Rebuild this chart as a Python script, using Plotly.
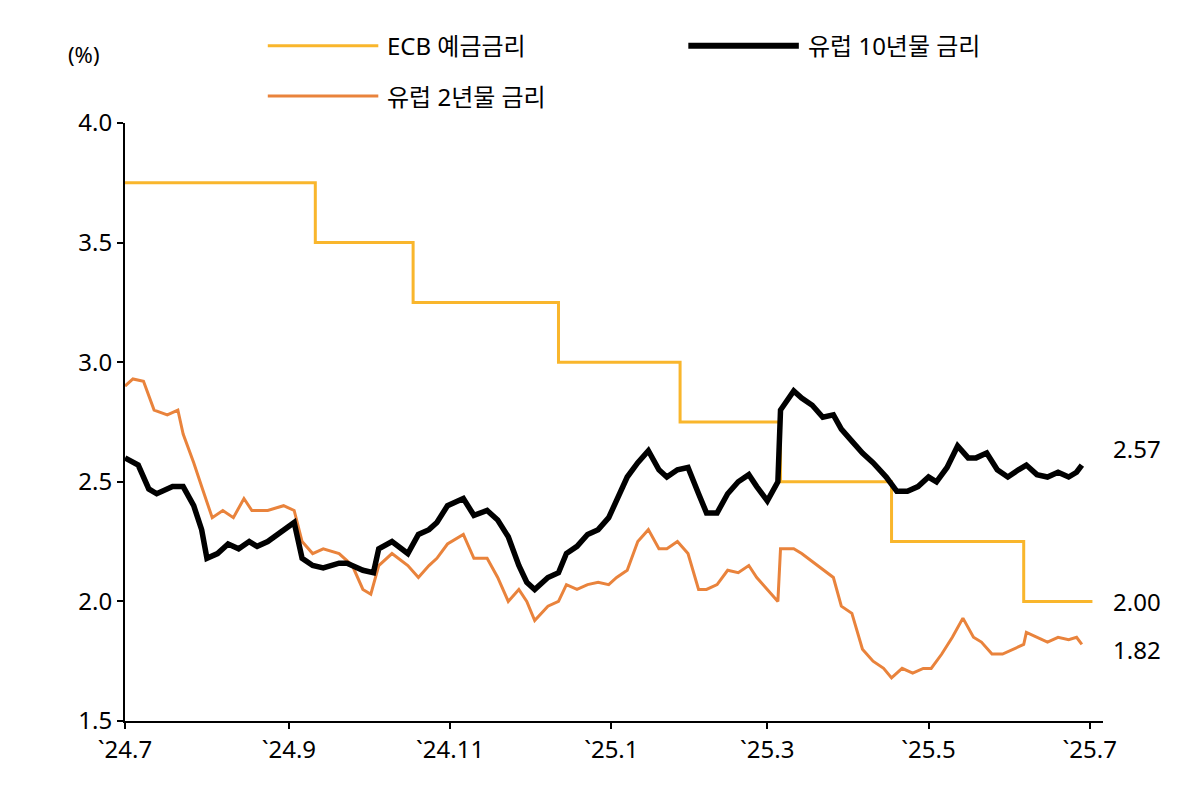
import pandas as pd
import plotly.graph_objects as go

start = pd.Timestamp("2024-07-01")

# ECB deposit rate (step changes, days since 2024-07-01)
ecb_days = [0, 72, 109, 164, 210, 248, 290, 340, 366]
ecb_vals = [3.75, 3.50, 3.25, 3.00, 2.75, 2.50, 2.25, 2.00, 2.00]

# Euro 10y yield
y10_days = [0, 5, 9, 12, 18, 22, 26, 29, 31, 35, 39, 43, 47, 50, 54, 58, 64, 67, 71, 75, 81, 84, 90, 94, 96,
            101, 107, 111, 115, 118, 122, 128, 132, 137, 141, 145, 149, 152, 155, 160, 164, 167, 171, 175,
            179, 183, 186, 190, 194, 198, 202, 205, 209, 213, 217, 220, 224, 228, 232, 236, 239, 243, 247,
            248, 253, 256, 260, 264, 268, 271, 275, 279, 283, 288, 292, 296, 300, 304, 307, 311, 315, 319,
            322, 326, 330, 334, 338, 341, 345, 349, 353, 357, 360, 362]
y10_vals = [2.60, 2.57, 2.47, 2.45, 2.48, 2.48, 2.40, 2.30, 2.18, 2.20, 2.24, 2.22, 2.25, 2.23, 2.25, 2.28,
            2.33, 2.18, 2.15, 2.14, 2.16, 2.16, 2.13, 2.12, 2.22, 2.25, 2.20, 2.28, 2.30, 2.33, 2.40, 2.43,
            2.36, 2.38, 2.34, 2.27, 2.15, 2.08, 2.05, 2.10, 2.12, 2.20, 2.23, 2.28, 2.30, 2.35, 2.42, 2.52,
            2.58, 2.63, 2.55, 2.52, 2.55, 2.56, 2.45, 2.37, 2.37, 2.45, 2.50, 2.53, 2.48, 2.42, 2.50, 2.80,
            2.88, 2.85, 2.82, 2.77, 2.78, 2.72, 2.67, 2.62, 2.58, 2.52, 2.46, 2.46, 2.48, 2.52, 2.50, 2.56,
            2.65, 2.60, 2.60, 2.62, 2.55, 2.52, 2.55, 2.57, 2.53, 2.52, 2.54, 2.52, 2.54, 2.57]

# Euro 2y yield
y2_days = [0, 3, 7, 11, 16, 20, 22, 26, 29, 33, 37, 41, 45, 48, 54, 60, 64, 67, 71, 75, 81, 86, 90, 93, 96,
           101, 107, 111, 115, 118, 122, 128, 132, 137, 141, 145, 149, 152, 155, 160, 164, 167, 171, 175,
           179, 183, 186, 190, 194, 198, 202, 205, 209, 213, 217, 220, 224, 228, 232, 236, 239, 243, 247,
           248, 253, 256, 262, 268, 271, 275, 279, 283, 287, 290, 294, 298, 302, 305, 309, 313, 317, 321,
           324, 328, 332, 336, 340, 341, 345, 349, 353, 357, 360, 362]
y2_vals = [2.90, 2.93, 2.92, 2.80, 2.78, 2.80, 2.70, 2.58, 2.48, 2.35, 2.38, 2.35, 2.43, 2.38, 2.38, 2.40,
           2.38, 2.25, 2.20, 2.22, 2.20, 2.15, 2.05, 2.03, 2.15, 2.20, 2.15, 2.10, 2.15, 2.18, 2.24, 2.28,
           2.18, 2.18, 2.10, 2.00, 2.05, 2.00, 1.92, 1.98, 2.00, 2.07, 2.05, 2.07, 2.08, 2.07, 2.10, 2.13,
           2.25, 2.30, 2.22, 2.22, 2.25, 2.20, 2.05, 2.05, 2.07, 2.13, 2.12, 2.15, 2.10, 2.05, 2.00, 2.22,
           2.22, 2.20, 2.15, 2.10, 1.98, 1.95, 1.80, 1.75, 1.72, 1.68, 1.72, 1.70, 1.72, 1.72, 1.78, 1.85,
           1.93, 1.85, 1.83, 1.78, 1.78, 1.80, 1.82, 1.87, 1.85, 1.83, 1.85, 1.84, 1.85, 1.82]

tick_dates = ["2024-07-01", "2024-09-01", "2024-11-01", "2025-01-01", "2025-03-01", "2025-05-01", "2025-07-01"]
tick_labels = ["`24.7", "`24.9", "`24.11", "`25.1", "`25.3", "`25.5", "`25.7"]

def to_dates(days):
    return [start + pd.Timedelta(days=d) for d in days]

c_ecb = "#F9B62C"
c_2y = "#E9833C"
c_10y = "#000000"
font = "Noto Sans, Noto Sans CJK KR"

fig = go.Figure()
fig.add_trace(go.Scatter(x=to_dates(ecb_days), y=ecb_vals, mode="lines", line=dict(color=c_ecb, width=3, shape="hv")))
fig.add_trace(go.Scatter(x=to_dates(y2_days), y=y2_vals, mode="lines", line=dict(color=c_2y, width=3)))
fig.add_trace(go.Scatter(x=to_dates(y10_days), y=y10_vals, mode="lines", line=dict(color=c_10y, width=5.5)))

# manual legend
legend_items = [("ECB 예금금리", c_ecb, 3, 0.146, 1.129),
                ("유럽 10년물 금리", c_10y, 6, 0.576, 1.129),
                ("유럽 2년물 금리", c_2y, 3, 0.146, 1.045)]
for name, col, w, lx, ly in legend_items:
    fig.add_shape(type="line", xref="paper", yref="paper", x0=lx, x1=lx + 0.113, y0=ly, y1=ly,
                  line=dict(color=col, width=w))
    fig.add_annotation(xref="paper", yref="paper", x=lx + 0.12, y=ly, text=name, showarrow=False,
                       xanchor="left", yanchor="middle", font=dict(size=24, color="black", family=font))

fig.add_annotation(xref="paper", yref="paper", x=-0.025, y=1.115, text="(%)", showarrow=False,
                   xanchor="right", yanchor="middle", font=dict(size=22, color="black", family=font))

for val, yv in [("2.57", 2.64), ("2.00", 2.00), ("1.82", 1.80)]:
    fig.add_annotation(xref="paper", yref="y", x=1.008, y=yv, text=val, showarrow=False,
                       xanchor="left", font=dict(size=24, color="black", family=font))

fig.update_layout(
    width=1200, height=798,
    margin=dict(l=117, r=105, t=115, b=85, autoexpand=False),
    paper_bgcolor="white", plot_bgcolor="white",
    showlegend=False,
    font=dict(family=font, size=24, color="black"),
    xaxis=dict(range=[start, start + pd.Timedelta(days=370)], tickvals=tick_dates, ticktext=tick_labels,
               showgrid=False, showline=True, linecolor="black", linewidth=2,
               ticks="outside", ticklen=6, tickcolor="black", tickwidth=2, zeroline=False),
    yaxis=dict(range=[1.5, 4.0], tickvals=[1.5, 2.0, 2.5, 3.0, 3.5, 4.0], tickformat=".1f",
               showgrid=False, showline=True, linecolor="black", linewidth=2,
               ticks="outside", ticklen=6, tickcolor="black", tickwidth=2, zeroline=False),
)

fig.write_html("out.html")
